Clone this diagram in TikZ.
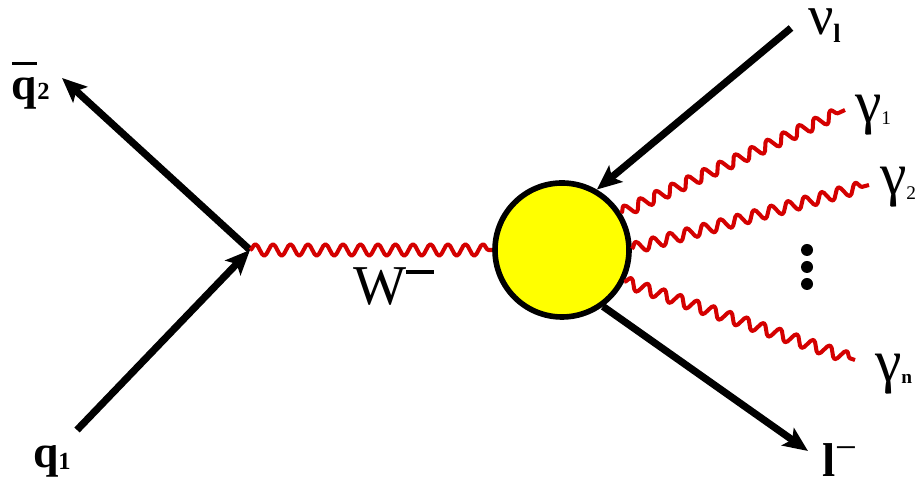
\documentclass[tikz,border=0pt]{standalone}
\usepackage{fontspec}
\setmainfont{Liberation Serif}
\usetikzlibrary{decorations.pathmorphing}
\usetikzlibrary{arrows.meta}
\definecolor{wavered}{HTML}{D40000}
\definecolor{blobyellow}{HTML}{FFFF00}
\tikzset{
  fermion/.style={line width=4.1pt,-{Stealth[length=14pt,width=12pt,inset=3pt]}},
  photon/.style={line width=2.3pt,color=wavered,line join=round,decorate,decoration={snake,amplitude=0.115cm,segment length=0.35cm}},
  lbl/.style={anchor=base west,inner sep=0pt,outer sep=0pt,text=black},
  blobstyle/.style={circle,draw=black,fill=blobyellow,line width=3.2pt,minimum size=2.68cm,inner sep=0pt}
}
\newcommand{\fsz}[1]{\fontsize{#1}{#1}\selectfont}
\begin{document}
\begin{tikzpicture}[line cap=butt,line join=miter,x=1cm,y=1cm]
\useasboundingbox (0,0) rectangle (18.3,9.68);
\coordinate (vertex) at (5,4.68);
\coordinate (qone) at (1.54,1.08);
\coordinate (qtwo) at (1.24,8.12);
\coordinate (nu) at (15.82,9.12);
\coordinate (lep) at (16.16,0.66);
\coordinate (gone) at (16.9,7.48);
\coordinate (gtwo) at (17.38,5.98);
\coordinate (gn) at (17.1,2.48);
\node [blobstyle] (blob) at (11.24,4.68) {};
\draw [fermion] (qone)-- (vertex);
\draw [fermion] (vertex)-- (qtwo);
\draw [fermion] (nu)-- (blob.60);
\draw [fermion] (blob.-54)-- (lep);
\draw [photon] (vertex)-- (blob);
\draw [photon] (blob.32)-- (gone);
\draw [photon] (blob.1)-- (gtwo);
\draw [photon] (blob.-27)-- (gn);
\foreach \ypos/\dotname in {4.68/dota,4.34/dotb,4.00/dotc}
  \node [circle,fill=black,minimum size=0.24cm,inner sep=0pt] (\dotname) at (16.14,\ypos) {};
\node [lbl] (labqone) at (0.66,0.32) {\fsz{26}\bfseries q\raisebox{-1pt}{\fsz{14}1}};
\node [lbl] (labqtwo) at (0.24,7.68) {\fsz{26}\bfseries\rlap{\raisebox{0.7cm}{\rule{0.5cm}{1.7pt}}}q\fsz{14}2};
\node [lbl] (labnu) at (16.16,8.98) {\fsz{32}ν\raisebox{-4.5pt}{\fsz{15}\bfseries l}};
\node [lbl] (labgone) at (17.1,7.22) {\fsz{34}γ\raisebox{-1.1pt}{\fsz{11}1}};
\node [lbl] (labgtwo) at (17.6,5.78) {\fsz{34}γ\raisebox{-2.8pt}{\fsz{11}2}};
\node [lbl] (labgn) at (17.5,2.04) {\fsz{34}γ\raisebox{-0.6pt}{\fsz{11}\bfseries n}};
\node [lbl] (lablep) at (16.44,0.14) {\fsz{27}\bfseries l\raisebox{0.32cm}{\fsz{22}\mdseries −}};
\node [lbl] (labw) at (7.06,3.58) {\fsz{32}W\raisebox{0.62cm}{\rule{0.56cm}{2.3pt}}};
\end{tikzpicture}
\end{document}
